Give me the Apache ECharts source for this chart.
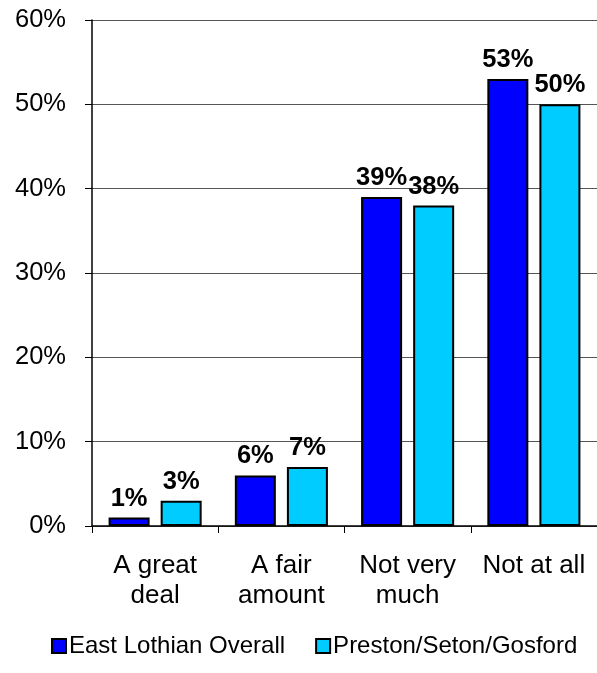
<!DOCTYPE html>
<html>
<head>
<meta charset="utf-8">
<script src="https://cdn.jsdelivr.net/npm/echarts@6/dist/echarts.min.js"></script>
<style>html,body{margin:0;padding:0;background:#fff;}#c{width:597px;height:673px;}</style>
</head>
<body>
<div id="c"></div>
<script>
var categories = ['A great\ndeal', 'A fair\namount', 'Not very\nmuch', 'Not at all'];
var seriesNames = ['East Lothian Overall', 'Preston/Seton/Gosford'];
var eastLothian = [1, 6, 39, 53];
var preston = [3, 7, 38, 50];
var yTicks = [0, 10, 20, 30, 40, 50, 60];

var chart = echarts.init(document.getElementById('c'), null, {renderer: 'canvas'});
var font = 'Arial, "Liberation Sans", sans-serif';
var labelCfg = {
  show: true, position: 'top', distance: 6,
  formatter: '{c}%', color: '#000', fontWeight: 'bold', fontSize: 25.5, fontFamily: font
};
chart.setOption({
  animation: false,
  backgroundColor: '#fff',
  grid: {left: 92, right: 0, top: 20, bottom: 147},
  legend: {
    data: seriesNames, left: 46, top: 629, itemWidth: 14, itemHeight: 14, itemGap: 30,
    icon: 'rect',
    textStyle: {fontSize: 24, fontFamily: font, color: '#000', padding: [0, 0, 0, -2]},
    itemStyle: {borderColor: '#000', borderWidth: 2}
  },
  xAxis: {
    type: 'category', data: categories,
    axisLine: {lineStyle: {color: '#000', width: 1.5}},
    axisTick: {show: true, length: 7, interval: 0, lineStyle: {color: '#000'}},
    axisLabel: {interval: 0, fontSize: 26, fontFamily: font, color: '#000', margin: 25, lineHeight: 30},
    splitLine: {show: false}
  },
  yAxis: {
    type: 'value', min: yTicks[0], max: yTicks[yTicks.length - 1], interval: 10,
    axisLine: {show: true, lineStyle: {color: '#000', width: 1.5}},
    axisTick: {show: true, length: 7, lineStyle: {color: '#000'}},
    axisLabel: {formatter: '{value}%', fontSize: 25.5, fontFamily: font, color: '#000', margin: 26},
    splitLine: {lineStyle: {color: '#555', width: 1}}
  },
  series: [
    {name: seriesNames[0], type: 'bar', data: eastLothian, barWidth: 41, barGap: '27%',
     itemStyle: {color: '#0000FF', borderColor: '#000', borderWidth: 2}, label: labelCfg},
    {name: seriesNames[1], type: 'bar', data: preston, barWidth: 41,
     itemStyle: {color: '#00CCFF', borderColor: '#000', borderWidth: 2}, label: labelCfg}
  ]
});
</script>
</body>
</html>
